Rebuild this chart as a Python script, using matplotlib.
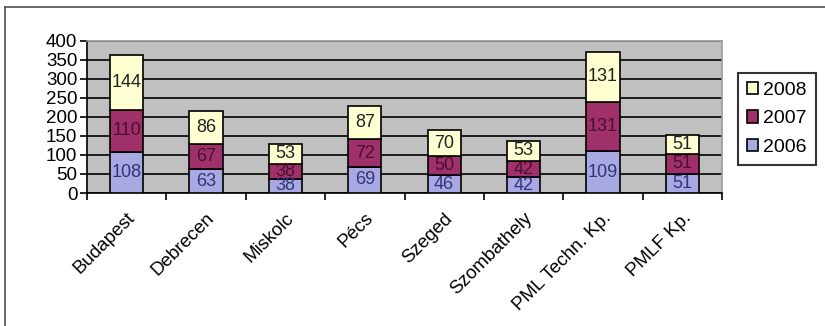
import matplotlib.pyplot as plt
from matplotlib.lines import Line2D
import numpy as np

plt.rcParams['font.family'] = ['Liberation Sans', 'DejaVu Sans']

# data
cities = ['Budapest', 'Debrecen', 'Miskolc', 'Pécs', 'Szeged',
          'Szombathely', 'PML Techn. Kp.', 'PMLF Kp.']
v2006 = [108, 63, 38, 69, 46, 42, 109, 51]
v2007 = [110, 67, 38, 72, 50, 42, 131, 51]
v2008 = [144, 86, 53, 87, 70, 53, 131, 51]
years = ['2006', '2007', '2008']

colors = ['#a8a8e2', '#a0306a', '#ffffd2']
text_colors = ['#33337a', '#4a1030', '#222222']

fig = plt.figure(figsize=(8.25, 3.26), dpi=100)
ax = fig.add_axes([87 / 825, 1 - 193 / 326, (722 - 87) / 825, (193 - 40.7) / 326])
ax.set_facecolor('#c0c0c0')

x = np.arange(len(cities)) + 0.5
bottom = np.zeros(len(cities))
bars = []
for vals, col, tcol in zip([v2006, v2007, v2008], colors, text_colors):
    b = ax.bar(x, vals, width=0.42, bottom=bottom, color=col,
               edgecolor='black', linewidth=1.2, zorder=3)
    bars.append(b)
    ax.bar_label(b, labels=[str(v) for v in vals], label_type='center',
                 fontsize=13, color=tcol, zorder=4)
    bottom = bottom + np.array(vals)

ax.set_xlim(0, len(cities))
ax.set_ylim(0, 400)
ax.set_yticks(range(0, 401, 50))
ax.yaxis.grid(True, color='black', linewidth=1.2, zorder=1)
ax.set_axisbelow(True)

ax.set_xticks(np.arange(len(cities) + 1))
ax.set_xticklabels([])
ax.set_xticks(x, minor=True)
ax.set_xticklabels(cities, minor=True, rotation=45, ha='right',
                   rotation_mode='anchor', fontsize=13.5)
ax.tick_params(axis='x', which='minor', length=0, pad=12)
ax.tick_params(axis='x', which='major', length=5, width=1.2, direction='out')
ax.tick_params(axis='y', length=5, width=1.2, labelsize=13.5, pad=2)

for s in ['left', 'bottom']:
    ax.spines[s].set_color('black')
    ax.spines[s].set_linewidth(1.2)
for s in ['top', 'right']:
    ax.spines[s].set_color('#9a9a9a')
    ax.spines[s].set_linewidth(1.2)

leg = ax.legend([bars[2], bars[1], bars[0]], ['2008', '2007', '2006'],
                loc='upper left', bbox_to_anchor=(738 / 825, 1 - 73 / 326),
                bbox_transform=fig.transFigure, fontsize=14, frameon=True,
                fancybox=False, edgecolor='black', handlelength=0.6,
                handleheight=0.6, handletextpad=0.25, labelspacing=0.6,
                borderpad=0.45, borderaxespad=0)
leg.get_frame().set_linewidth(1.5)

# outer frame (cropped on the right and bottom)
fig.add_artist(Line2D([5 / 825, 5 / 825], [0, 1 - 7 / 326],
                      transform=fig.transFigure, color='#505050', linewidth=1.2))
fig.add_artist(Line2D([5 / 825, 1], [1 - 7 / 326, 1 - 7 / 326],
                      transform=fig.transFigure, color='#505050', linewidth=1.2))

fig.savefig('out.png', dpi=100)
